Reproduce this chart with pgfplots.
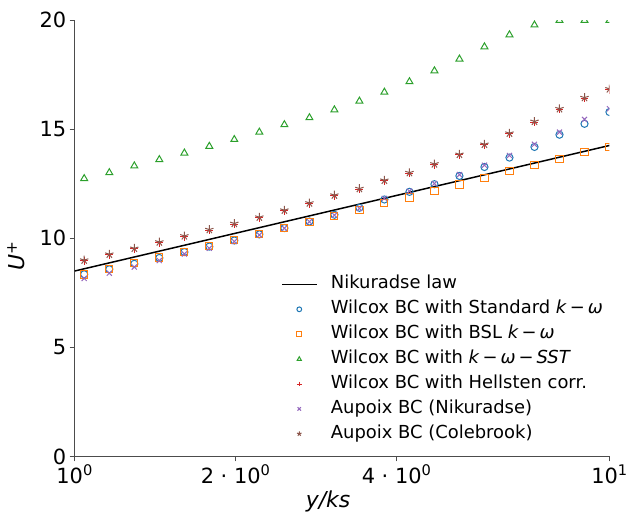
\documentclass[border=0pt]{standalone}
\usepackage{fontspec}
\setmainfont{DejaVu Sans}
\usepackage{pgfplots}
\usepackage{pgfplotstable}
\pgfplotsset{compat=1.18}

\definecolor{c0}{HTML}{1F77B4}
\definecolor{c1}{HTML}{FF7F0E}
\definecolor{c2}{HTML}{2CA02C}
\definecolor{c3}{HTML}{D62728}
\definecolor{c4}{HTML}{9467BD}
\definecolor{c5}{HTML}{8C564B}

\pgfplotsset{
    marklegend/.style={legend image code/.code={\draw[##1, mark size=2.4pt] plot coordinates {(17pt,0pt)};}},
    linelegend/.style={legend image code/.code={\draw[##1] (0pt,0pt) -- (35pt,0pt);}},
}

% U+ profiles, columns read off the plot
\pgfplotstableread{
x      std    bsl    sst    hel    nik    cole
1.042  8.35   8.34   12.74  8.97   8.16   9.00
1.161  8.58   8.60   13.01  9.24   8.40   9.27
1.293  8.83   8.86   13.32  9.51   8.68   9.54
1.440  9.10   9.12   13.61  9.80   8.98   9.83
1.604  9.37   9.39   13.91  10.08  9.28   10.11
1.786  9.62   9.65   14.22  10.37  9.54   10.40
1.989  9.90   9.92   14.53  10.65  9.85   10.68
2.215  10.18  10.20  14.87  10.94  10.15  10.97
2.467  10.47  10.49  15.21  11.26  10.46  11.29
2.748  10.77  10.76  15.53  11.59  10.76  11.62
3.060  11.08  11.04  15.89  11.95  11.06  11.98
3.408  11.40  11.30  16.29  12.25  11.37  12.28
3.795  11.78  11.60  16.70  12.63  11.83  12.66
4.227  12.13  11.87  17.18  12.98  12.16  13.01
4.707  12.48  12.18  17.68  13.38  12.51  13.41
5.242  12.86  12.47  18.22  13.82  12.92  13.85
5.838  13.27  12.77  18.78  14.28  13.35  14.31
6.502  13.70  13.07  19.33  14.79  13.80  14.82
7.241  14.19  13.37  19.78  15.33  14.31  15.36
8.064  14.75  13.65  19.99  15.91  14.87  15.94
8.981  15.25  13.94  19.99  16.42  15.45  16.45
10.00  15.79  14.20  19.99  16.82  15.94  16.85
}\profiles

\begin{document}
\begin{tikzpicture}
\begin{axis}[
    scale only axis,
    width=537pt, height=438pt,
    xmode=log,
    xmin=1, xmax=10,
    ymin=0, ymax=20,
    axis x line*=bottom,
    axis y line*=left,
    axis line style={black!70, line width=0.8pt},
    xtick={1,2,4,10},
    xticklabels={10\textsuperscript{0}, 2 · 10\textsuperscript{0}, 4 · 10\textsuperscript{0}, 10\textsuperscript{1}},
    xminorticks=false,
    ytick={0,5,10,15,20},
    tick align=outside,
    major tick length=5pt,
    tick style={black!70, line width=0.8pt},
    tick label style={font=\fontsize{21}{24}\selectfont},
    /pgf/number format/assume math mode=true,
    xlabel={\textit{y/ks}},
    ylabel={\textit{U}\textsuperscript{+}},
    label style={font=\fontsize{22}{26}\selectfont},
    xlabel style={xshift=-14pt},
    ylabel style={yshift=8pt, xshift=-18pt},
    clip marker paths=true,
    every axis plot/.append style={line width=1pt},
    mark size=3.6pt,
    legend style={draw=none, fill=none, at={(0.381,0.421)}, anchor=north west,
        font=\fontsize{18}{20}\selectfont, row sep=6pt, column sep=12pt,
        nodes={inner sep=1pt, text height=13pt, text depth=4pt}},
    legend cell align=left,
    marklegend,
]
\addplot[black, line width=1.5pt, no marks, linelegend]
    coordinates {(1,8.5) (2,10.233) (4,11.966) (10,14.256)};
\addlegendentry{Nikuradse law}
\addplot[c0, only marks, mark=o] table[x=x, y=std] {\profiles};
\addlegendentry{Wilcox BC with Standard \textit{k}\,−\,\textit{ω}}
\addplot[c1, only marks, mark=square] table[x=x, y=bsl] {\profiles};
\addlegendentry{Wilcox BC with BSL \textit{k}\,−\,\textit{ω}}
\addplot[c2, only marks, mark=triangle, mark size=4pt] table[x=x, y=sst] {\profiles};
\addlegendentry{Wilcox BC with \textit{k}\,−\,\textit{ω}\,−\,\textit{SST}}
\addplot[c3, only marks, mark=+, mark size=4pt] table[x=x, y=hel] {\profiles};
\addlegendentry{Wilcox BC with Hellsten corr.}
\addplot[c4, only marks, mark=x] table[x=x, y=nik] {\profiles};
\addlegendentry{Aupoix BC (Nikuradse)}
\addplot[c5, only marks, mark=star, mark size=4.4pt, mark options={fill=c5!75}] table[x=x, y=cole] {\profiles};
\addlegendentry{Aupoix BC (Colebrook)}
\end{axis}
\path ([shift={(-4pt,9pt)}]current bounding box.north west);
\end{tikzpicture}
\end{document}
